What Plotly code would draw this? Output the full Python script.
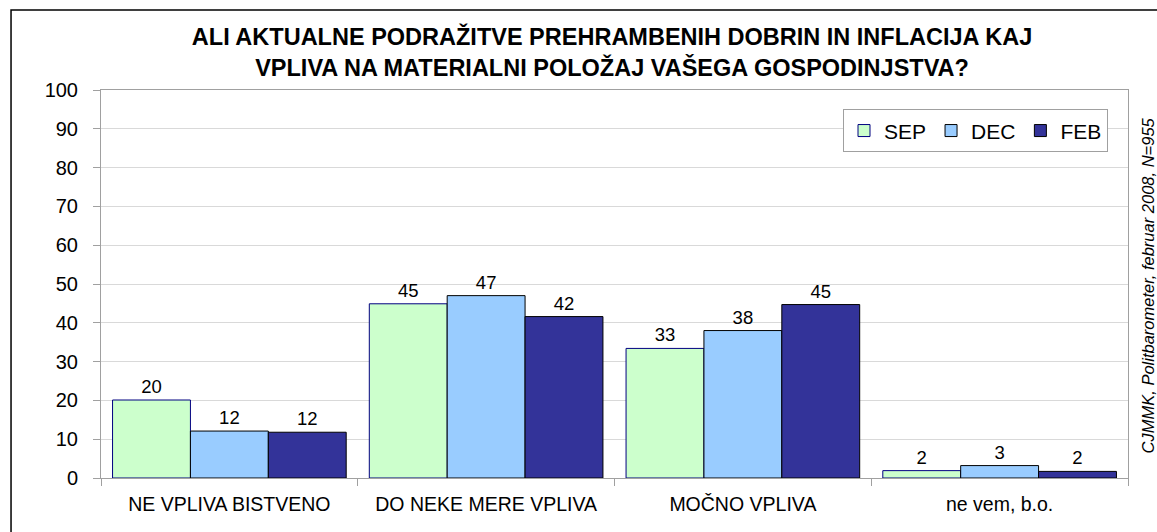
import plotly.graph_objects as go

categories = ["NE VPLIVA BISTVENO", "DO NEKE MERE VPLIVA", "MOČNO VPLIVA", "ne vem, b.o."]
series_names = ["SEP", "DEC", "FEB"]
sep_values = [20.1, 44.9, 33.4, 1.9]
dec_values = [12.1, 47.0, 38.0, 3.2]
feb_values = [11.8, 41.6, 44.7, 1.7]
y_ticks = [0, 10, 20, 30, 40, 50, 60, 70, 80, 90, 100]

title_text = ("<b>ALI AKTUALNE PODRAŽITVE PREHRAMBENIH DOBRIN IN INFLACIJA KAJ<br>"
              "VPLIVA NA MATERIALNI POLOŽAJ VAŠEGA GOSPODINJSTVA?</b>")
source_text = "<i>CJMMK, Politbarometer, februar 2008, N=955</i>"

FONT = "Arial, Liberation Sans, sans-serif"
fills = ["#CCFFCC", "#99CCFF", "#333399"]
edges = ["#000080", "#000000", "#000000"]

fig = go.Figure()
for name, vals, fc, ec in zip(series_names, [sep_values, dec_values, feb_values], fills, edges):
    fig.add_trace(go.Bar(
        name=name, x=categories, y=vals,
        marker=dict(color=fc, line=dict(color=ec, width=1)),
        texttemplate="%{y:.0f}", textposition="outside",
        textfont=dict(family=FONT, size=18.5, color="#000000"),
        cliponaxis=False,
    ))

fig.update_layout(
    width=1157, height=532,
    margin=dict(l=101, r=29, t=90, b=54),
    paper_bgcolor="white", plot_bgcolor="white",
    barmode="group", bargap=0.09, bargroupgap=0,
    font=dict(family=FONT, color="#000000"),
    title=dict(text=title_text, x=0.529, xanchor="center", y=0.915, yanchor="top",
               font=dict(family=FONT, size=23.5, color="#000000")),
    legend=dict(orientation="h", x=0.7225, y=0.95, xanchor="left", yanchor="top",
                bordercolor="#A0A0A0", borderwidth=1, bgcolor="white",
                font=dict(family=FONT, size=21, color="#000000"),
                itemwidth=30, tracegroupgap=0),
    showlegend=True,
)

fig.update_yaxes(
    range=[0, 100], tickvals=y_ticks, showgrid=True, gridcolor="#D9D9D9", gridwidth=1,
    showline=True, linecolor="#A0A0A0", linewidth=1, mirror=True,
    ticks="outside", ticklen=7, tickcolor="#A0A0A0", ticklabelstandoff=11,
    tickfont=dict(family=FONT, size=20, color="#000000"), zeroline=False,
)
fig.update_xaxes(
    showline=True, linecolor="#A0A0A0", linewidth=1, mirror=True,
    ticks="outside", ticklen=7, tickcolor="#A0A0A0", tickson="boundaries",
    tickfont=dict(family=FONT, size=19.5, color="#000000"), ticklabelstandoff=9,
)

# outer chart frame
fig.add_shape(type="rect", xref="paper", yref="paper",
              x0=-0.0876, x1=1.2, y0=-0.3, y1=1.206,
              line=dict(color="#000000", width=1.5), fillcolor="rgba(0,0,0,0)", layer="below")

fig.add_annotation(text=source_text, xref="paper", yref="paper", x=1.019, y=0.495,
                   xanchor="center", yanchor="middle", textangle=-90, showarrow=False,
                   font=dict(family=FONT, size=16.5, color="#000000"))

fig.write_html("out.html", config={"displayModeBar": False},
               post_script="document.body.style.margin='0px';document.body.style.overflow='hidden';")
